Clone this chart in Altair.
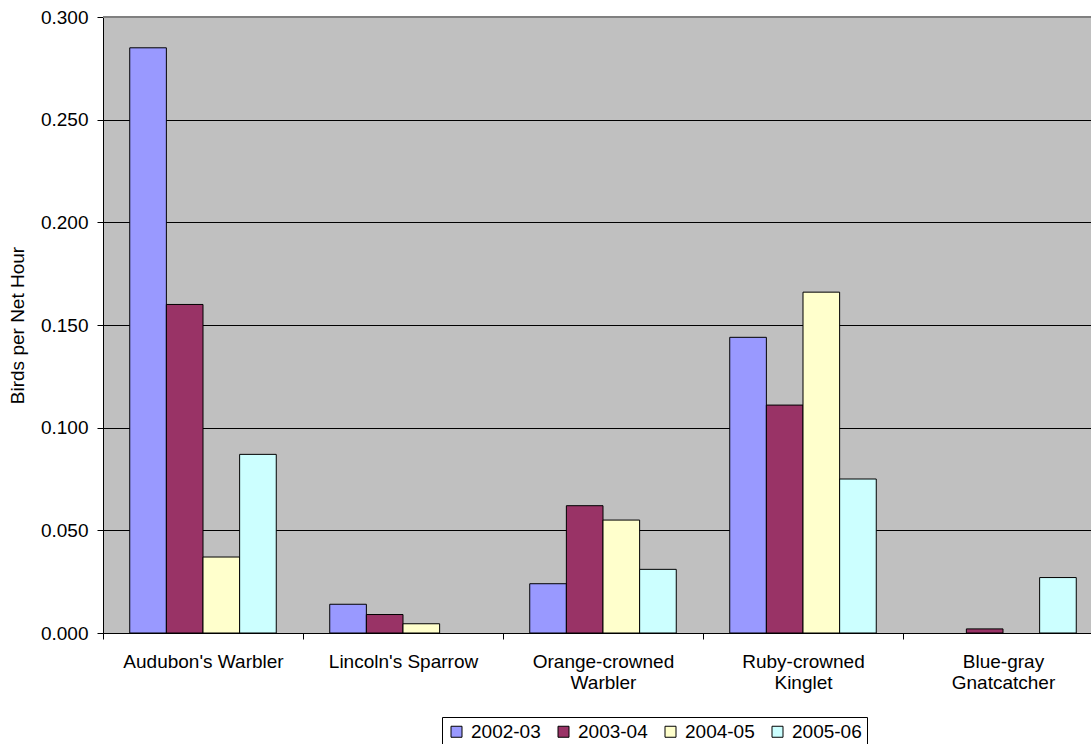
import altair as alt
import pandas as pd

species = ["Audubon's Warbler", "Lincoln's Sparrow", "Orange-crowned Warbler",
           "Ruby-crowned Kinglet", "Blue-gray Gnatcatcher"]
seasons = ["2002-03", "2003-04", "2004-05", "2005-06"]
v_2002_03 = [0.285, 0.014, 0.024, 0.144, 0.0]
v_2003_04 = [0.160, 0.009, 0.062, 0.111, 0.002]
v_2004_05 = [0.037, 0.0045, 0.055, 0.166, 0.0]
v_2005_06 = [0.087, 0.0, 0.031, 0.075, 0.027]
colors = ["#9999FF", "#993366", "#FFFFCC", "#CCFFFF"]
y_ticks = [0.0, 0.05, 0.10, 0.15, 0.20, 0.25, 0.30]

series = [v_2002_03, v_2003_04, v_2004_05, v_2005_06]
rows = []
for s, vals in zip(seasons, series):
    for sp, v in zip(species, vals):
        rows.append({"species": sp, "season": s, "value": v})
df = pd.DataFrame(rows)

FONT = "Liberation Sans"
W, H = 988, 616

bars = alt.Chart(df).transform_filter("datum.value > 0").mark_bar(stroke="black", strokeWidth=1).encode(
    x=alt.X("species:N", sort=species,
            scale=alt.Scale(domain=species, range=[0, 1000], paddingInner=0, paddingOuter=0),
            axis=alt.Axis(title=None, labelAngle=0, tickBand="extent", tickSize=6,
                          labelPadding=13, labelLineHeight=21, labelLimit=400,
                          labelExpr="indexof(datum.label, '-') >= 0 ? split(datum.label, ' ') : datum.label",
                          grid=False, labelBaseline="top")),
    xOffset=alt.XOffset("season:N", sort=seasons,
                        scale=alt.Scale(domain=seasons, paddingInner=0, paddingOuter=0.73)),
    y=alt.Y("value:Q", scale=alt.Scale(domain=[0, 0.3], nice=False),
            axis=alt.Axis(values=y_ticks, format=".3f", title="Birds per Net Hour",
                          grid=True, gridColor="black", gridWidth=1, gridOpacity=1,
                          tickSize=6, labelPadding=9,
                          titleX=-86, titleY=H / 2, titleAngle=270,
                          titleAlign="center", titleBaseline="middle")),
    color=alt.Color("season:N", sort=seasons,
                    scale=alt.Scale(domain=seasons, range=colors),
                    legend=alt.Legend(title=None, orient="none", legendX=339, legendY=700,
                                      direction="horizontal", strokeColor="black",
                                      fillColor="white", padding=5, symbolType="square",
                                      symbolSize=121, symbolStrokeColor="black",
                                      symbolStrokeWidth=1, labelFontSize=19,
                                      labelFont=FONT, labelColor="black",
                                      labelOffset=5, columnPadding=13)),
)

border = alt.Chart(pd.DataFrame({"a": [0]})).mark_rule(color="#808080", strokeWidth=2).encode(
    x=alt.value(0), x2=alt.value(W), y=alt.value(0)
)

chart = alt.layer(bars, border).properties(
    width=W, height=H,
    autosize=alt.AutoSizeParams(type="none"),
    padding={"left": 103, "top": 17, "right": 0, "bottom": 111},
    background="white",
).configure_view(
    fill="#C0C0C0", stroke=None
).configure_axis(
    labelFont=FONT, titleFont=FONT, labelFontSize=19, titleFontSize=19,
    titleFontWeight="normal", labelColor="black", titleColor="black",
    domainColor="black", tickColor="black", domainWidth=1, tickWidth=1,
)

chart.save("out.html", embed_options={"renderer": "svg", "actions": False})
